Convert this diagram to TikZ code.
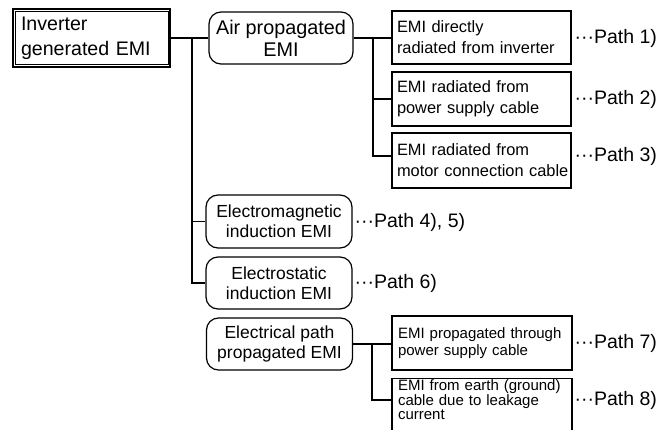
\documentclass[tikz,border=0pt]{standalone}
\usepackage{fontspec}
\setmainfont{Liberation Sans}
\newcommand\fszInv{\fontsize{19.6}{25}\selectfont}
\newcommand\fszAir{\fontsize{19.8}{22}\selectfont}
\newcommand\fszMid{\fontsize{17.5}{20}\selectfont}
\newcommand\fszBox{\fontsize{16.4}{21}\selectfont}
\newcommand\fszSm{\fontsize{15}{16.5}\selectfont}
\newcommand\fszTiny{\fontsize{15}{12.5}\selectfont}
\newcommand\fszLbl{\fontsize{19.5}{21}\selectfont}
\begin{document}
\begin{tikzpicture}[x=1pt,y=-1pt,line width=1.2pt,
  invbox/.style={draw,line width=1.7pt,minimum width=157.5pt,minimum height=58.5pt,
    inner xsep=8pt,text width=141pt,align=left,font=\fszInv},
  airbox/.style={draw,rounded corners=12pt,minimum width=144pt,minimum height=52pt,inner sep=0pt,align=center,font=\fszAir},
  rbox/.style={draw,rounded corners=12pt,minimum width=146pt,minimum height=53pt,inner sep=0pt,align=center,font=\fszMid},
  sqbox/.style={draw,minimum width=179pt,minimum height=53pt,inner xsep=5pt,inner ysep=0pt,text width=169pt,align=left,font=\fszBox},
  smbox/.style={draw,minimum width=180pt,minimum height=54pt,inner xsep=6pt,inner ysep=0pt,text width=168pt,align=left,font=\fszSm},
  tinytext/.style={inner xsep=6pt,inner ysep=0pt,text width=168pt,align=left,font=\fszTiny},
  lbl/.style={anchor=west,inner sep=0pt,font=\fszLbl}
]
\clip (0,0) rectangle (657,430);
% nodes
\node[invbox] (inv) at (91.5,38) {Inverter\\generated EMI};
\draw[line width=0.8pt] ([shift={(3.2pt,-3.2pt)}]inv.north west) rectangle ([shift={(-3.2pt,3.2pt)}]inv.south east);
\node[airbox] (air) at (281,38) {Air propagated\\EMI};
\node[sqbox] (b1) at (481.5,37.5) {\mbox{EMI directly}\\\mbox{radiated from inverter}};
\node[sqbox,minimum height=54pt] (b2) at (481.5,99) {\mbox{EMI radiated from}\\\mbox{power supply cable}};
\node[sqbox,minimum height=55pt] (b3) at (481.5,160.5) {\mbox{EMI radiated from}\\\mbox{motor connection cable}};
\node[rbox] (em) at (279,221.5) {Electromagnetic\\induction EMI};
\node[rbox,minimum height=52pt] (es) at (279,283) {Electrostatic\\induction EMI};
\node[rbox,minimum height=52pt] (ep) at (279.5,344) {Electrical path\\propagated EMI};
\node[smbox] (b7) at (482,343) {\mbox{EMI propagated through}\\\mbox{power supply cable}};
\node[smbox,minimum height=80pt,anchor=north] (b8) at (482,378) {};
\node[tinytext] (b8t) at (482,400) {\mbox{EMI from earth (ground)}\\\mbox{cable due to leakage}\\current};
% labels
\node[lbl] (p1) at (574,38) {···Path 1)};
\node[lbl] (p2) at (574,99) {···Path 2)};
\node[lbl] (p3) at (574,156) {···Path 3)};
\node[lbl] (p45) at (354,222) {···Path 4), 5)};
\node[lbl] (p6) at (354,283) {···Path 6)};
\node[lbl] (p7) at (574,343) {···Path 7)};
\node[lbl] (p8) at (574,400) {···Path 8)};
% connectors
\coordinate (j1) at (192,38);
\coordinate (j2) at (373,38);
\coordinate (j3) at (372,344);
\draw (inv.east) -- (air.west);
\draw (j1) |- (em.west);
\draw (j1) |- (es.west);
\draw (air.east) -- (air.east -| b1.west);
\draw (j2) |- (b2.west);
\draw (j2) |- (b3.west |- p3);
\draw (ep.east) -- (ep.east -| b7.west);
\draw (j3) |- (b8.west |- b8t);
\end{tikzpicture}
\end{document}
